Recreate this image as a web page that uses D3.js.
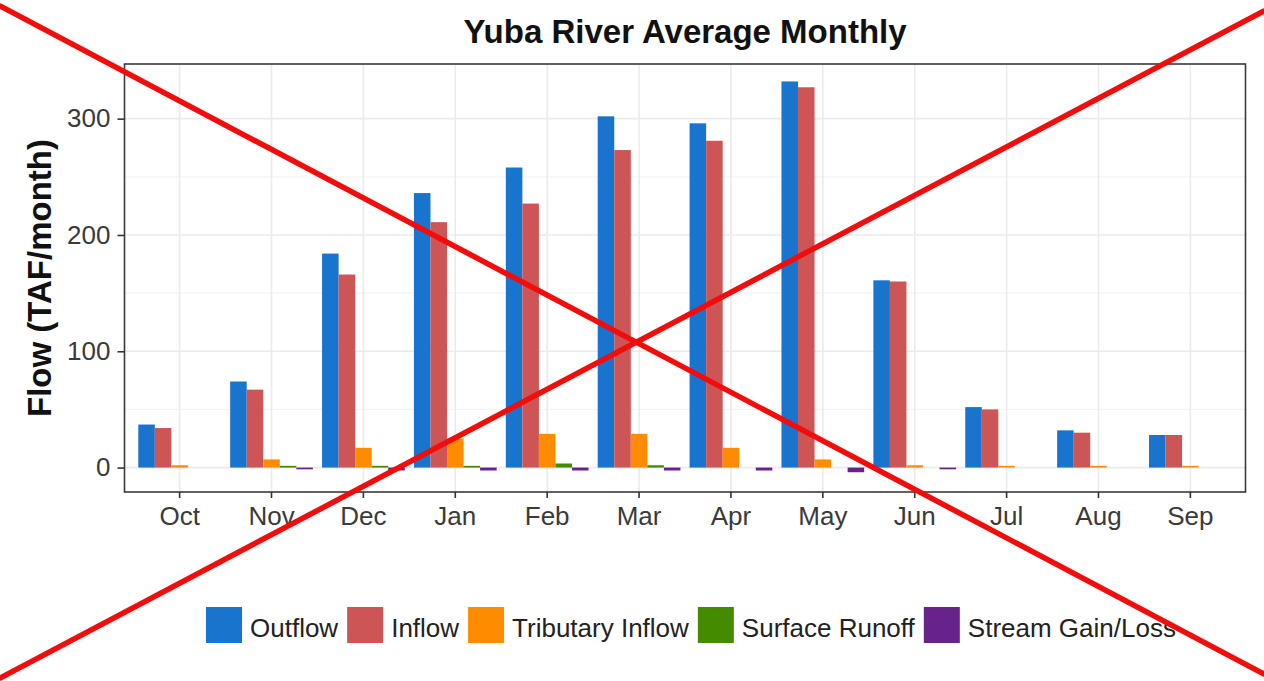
<!DOCTYPE html>
<html>
<head>
<meta charset="utf-8">
<script src="https://cdn.jsdelivr.net/npm/d3@7"></script>
<style>
  html, body { margin: 0; padding: 0; background: #fff; }
  svg { display: block; font-family: "Liberation Sans", Arial, sans-serif; }
</style>
</head>
<body>
<svg id="chart" width="1264" height="681"></svg>
<script>
// Yuba River average monthly flow components (TAF/month)
const months = ["Oct", "Nov", "Dec", "Jan", "Feb", "Mar", "Apr", "May", "Jun", "Jul", "Aug", "Sep"];
const seriesNames = ["Outflow", "Inflow", "Tributary Inflow", "Surface Runoff", "Stream Gain/Loss"];
const outflow    = [37, 74, 184, 236, 258, 302, 296, 332, 161, 52, 32, 28];
const inflow     = [34, 67, 166, 211, 227, 273, 281, 327, 160, 50, 30, 28];
const tributary  = [2, 7, 17, 25, 29, 29, 17, 7, 2, 1.5, 1.5, 1.5];
const runoff     = [0, 1.5, 1.5, 1.5, 3.5, 2, 0, 0, 0, 0, 0, 0];
const gainLoss   = [0, -1.5, -2.5, -2.5, -2.5, -2.5, -2.5, -4, -1.5, 0, 0, 0];
const yMajorTicks = [0, 100, 200, 300];
const yMinorTicks = [50, 150, 250];
const colors = ["#1874CD", "#CD5555", "#FF8C00", "#458B00", "#68228B"];

const seriesValues = [outflow, inflow, tributary, runoff, gainLoss];

const svg = d3.select("#chart");
const panel = { left: 124.5, right: 1245.5, top: 64, bottom: 492 };

const x = d3.scaleBand()
  .domain(months)
  .range([panel.left, panel.right])
  .paddingInner(0.1)
  .paddingOuter(0.15);

const xSeries = d3.scaleBand()
  .domain(seriesNames)
  .range([0, x.bandwidth()])
  .padding(0);

const y = d3.scaleLinear()
  .domain([-21, 347])
  .range([panel.bottom, panel.top]);

const color = d3.scaleOrdinal().domain(seriesNames).range(colors);

// grid
const grid = svg.append("g");
grid.selectAll("line.minor").data(yMinorTicks).join("line")
  .attr("x1", panel.left).attr("x2", panel.right)
  .attr("y1", d => y(d)).attr("y2", d => y(d))
  .attr("stroke", "#f4f4f4").attr("stroke-width", 1.2);
grid.selectAll("line.major").data(yMajorTicks).join("line")
  .attr("x1", panel.left).attr("x2", panel.right)
  .attr("y1", d => y(d)).attr("y2", d => y(d))
  .attr("stroke", "#ebebeb").attr("stroke-width", 1.6);
grid.selectAll("line.vert").data(months).join("line")
  .attr("x1", d => x(d) + x.bandwidth() / 2).attr("x2", d => x(d) + x.bandwidth() / 2)
  .attr("y1", panel.top).attr("y2", panel.bottom)
  .attr("stroke", "#ebebeb").attr("stroke-width", 1.6);

// bars
const rows = [];
months.forEach((m, i) => {
  seriesNames.forEach((s, j) => rows.push({ month: m, series: s, value: seriesValues[j][i] }));
});
svg.append("g").selectAll("rect").data(rows.filter(d => d.value !== 0)).join("rect")
  .attr("x", d => x(d.month) + xSeries(d.series))
  .attr("width", xSeries.bandwidth())
  .attr("y", d => y(Math.max(0, d.value)))
  .attr("height", d => Math.abs(y(d.value) - y(0)))
  .attr("fill", d => color(d.series));

// panel border
svg.append("rect")
  .attr("x", panel.left).attr("y", panel.top)
  .attr("width", panel.right - panel.left).attr("height", panel.bottom - panel.top)
  .attr("fill", "none").attr("stroke", "#3a3a3a").attr("stroke-width", 1.6);

// axes
const yAxis = svg.append("g")
  .attr("transform", `translate(${panel.left},0)`)
  .call(d3.axisLeft(y).tickValues(yMajorTicks).tickSize(7).tickPadding(7));
const xAxis = svg.append("g")
  .attr("transform", `translate(0,${panel.bottom})`)
  .call(d3.axisBottom(x).tickSize(6).tickPadding(9));
[yAxis, xAxis].forEach(g => {
  g.select(".domain").remove();
  g.selectAll(".tick line").attr("stroke", "#333").attr("stroke-width", 1.6);
  g.selectAll(".tick text")
    .attr("fill", "#3a3a3a")
    .style("font-size", "26px")
    .style("font-family", "'Liberation Sans', Arial, sans-serif");
});

// titles
svg.append("text")
  .attr("x", (panel.left + panel.right) / 2).attr("y", 43)
  .attr("text-anchor", "middle")
  .style("font-size", "33px").style("font-weight", "bold")
  .attr("fill", "#111")
  .text("Yuba River Average Monthly");

svg.append("text")
  .attr("transform", `translate(51,${(panel.top + panel.bottom) / 2}) rotate(-90)`)
  .attr("text-anchor", "middle")
  .style("font-size", "33px").style("font-weight", "bold")
  .attr("fill", "#111")
  .text("Flow (TAF/month)");

// legend
const legend = svg.append("g").attr("transform", "translate(206,607)");
let lx = 0;
seriesNames.forEach(s => {
  const item = legend.append("g").attr("transform", `translate(${lx},0)`);
  item.append("rect").attr("width", 36).attr("height", 36).attr("fill", color(s));
  const t = item.append("text").attr("x", 44).attr("y", 30)
    .style("font-size", "26px").attr("fill", "#222").text(s);
  lx += 44 + t.node().getComputedTextLength() + 9;
});

// crossing lines over the whole graphic
const cross = svg.append("g").attr("stroke", "#f20d0d").attr("stroke-width", 5.5).attr("stroke-linecap", "round");
cross.append("line").attr("x1", 0).attr("y1", 6).attr("x2", 1264).attr("y2", 674);
cross.append("line").attr("x1", 0).attr("y1", 678).attr("x2", 1264).attr("y2", 11);
</script>
</body>
</html>
